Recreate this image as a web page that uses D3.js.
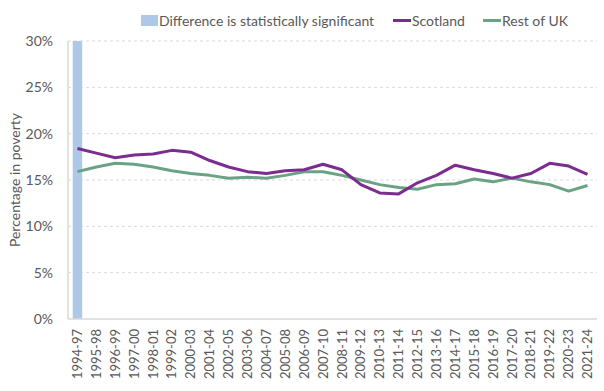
<!DOCTYPE html>
<html>
<head>
<meta charset="utf-8">
<script src="https://cdn.jsdelivr.net/npm/d3@7"></script>
<style>
  body { margin: 0; background: #fff; }
  svg { font-family: "Source Sans Pro", "Lato", "Noto Sans", sans-serif; }
</style>
</head>
<body>
<div id="chart"></div>
<script>
// periods (3-year averages)
const periods = ["1994-97","1995-98","1996-99","1997-00","1998-01","1999-02","2000-03","2001-04",
  "2002-05","2003-06","2004-07","2005-08","2006-09","2007-10","2008-11","2009-12","2010-13",
  "2011-14","2012-15","2013-16","2014-17","2015-18","2016-19","2017-20","2018-21","2019-22",
  "2020-23","2021-24"];

// % in poverty
const scotland = [18.4,17.9,17.4,17.7,17.8,18.2,18.0,17.1,16.4,15.9,15.7,16.0,16.1,16.7,16.1,14.5,
  13.6,13.5,14.7,15.5,16.6,16.1,15.7,15.2,15.7,16.8,16.5,15.6];
const restOfUK = [15.9,16.4,16.8,16.7,16.4,16.0,15.7,15.5,15.2,15.3,15.2,15.5,15.9,15.9,15.5,15.0,
  14.5,14.2,14.0,14.5,14.6,15.1,14.8,15.2,14.8,14.5,13.8,14.4];

// periods where the difference is statistically significant
const significant = ["1994-97"];

const yTicks = [0, 5, 10, 15, 20, 25, 30];

const W = 604, H = 391;
const m = { t: 41, r: 7, b: 72, l: 68 };

const svg = d3.select("#chart").append("svg").attr("width", W).attr("height", H);

const x = d3.scaleBand().domain(periods).range([m.l, W - m.r]);
const y = d3.scaleLinear().domain([0, 30]).range([H - m.b, m.t]);

const ink = "#595959";

// gridlines
svg.append("g").selectAll("line").data(yTicks.filter(d => d > 0)).join("line")
  .attr("x1", m.l).attr("x2", W - m.r)
  .attr("y1", d => y(d)).attr("y2", d => y(d))
  .attr("stroke", "#d9d9d9").attr("stroke-dasharray", "3,3").attr("stroke-width", 1);

// significance bars
svg.append("g").selectAll("rect").data(significant).join("rect")
  .attr("x", d => x(d) + x.bandwidth() * 0.25)
  .attr("width", x.bandwidth() * 0.5)
  .attr("y", y(30)).attr("height", y(0) - y(30))
  .attr("fill", "#aec8e8");

// axes lines
svg.append("line").attr("x1", m.l).attr("x2", m.l).attr("y1", y(30)).attr("y2", y(0))
  .attr("stroke", "#d9d9d9").attr("stroke-width", 1.5);
svg.append("line").attr("x1", m.l).attr("x2", W - m.r).attr("y1", y(0)).attr("y2", y(0))
  .attr("stroke", "#d9d9d9").attr("stroke-width", 1.5);

// y tick labels
svg.append("g").selectAll("text").data(yTicks).join("text")
  .attr("x", m.l - 15).attr("y", d => y(d)).attr("dy", "0.35em")
  .attr("text-anchor", "end").attr("fill", ink).style("font-size", "14px")
  .text(d => d + "%");

// y title
svg.append("text")
  .attr("transform", `translate(20,${(y(0) + y(30)) / 2}) rotate(-90)`)
  .attr("text-anchor", "middle").attr("fill", ink).style("font-size", "14px")
  .text("Percentage in poverty");

// x labels
svg.append("g").selectAll("text").data(periods).join("text")
  .attr("transform", d => `translate(${x(d) + x.bandwidth() / 2},${y(0) + 10}) rotate(-90)`)
  .attr("text-anchor", "end").attr("dy", "0.35em")
  .attr("fill", ink).style("font-size", "13px")
  .text(d => d);

// lines
const line = d3.line().x((d, i) => x(periods[i]) + x.bandwidth() / 2).y(d => y(d));
const series = [
  { name: "Scotland", values: scotland, color: "#7b2c8f" },
  { name: "Rest of UK", values: restOfUK, color: "#6aa383" }
];
series.slice().reverse().forEach(s => {
  svg.append("path").datum(s.values).attr("d", line)
    .attr("fill", "none").attr("stroke", s.color).attr("stroke-width", 3)
    .attr("stroke-linejoin", "round");
});

// legend
const lg = svg.append("g").style("font-size", "14px");
lg.append("rect").attr("x", 141).attr("y", 15).attr("width", 17).attr("height", 11).attr("fill", "#aec8e8");
lg.append("text").attr("x", 159).attr("y", 25.5).attr("fill", ink).text("Difference is statistically significant");
const lx = [393, 483];
series.forEach((s, i) => {
  lg.append("line").attr("x1", lx[i]).attr("x2", lx[i] + 18).attr("y1", 20.5).attr("y2", 20.5)
    .attr("stroke", s.color).attr("stroke-width", 3);
  lg.append("text").attr("x", lx[i] + 19).attr("y", 25.5).attr("fill", ink).text(s.name);
});
</script>
</body>
</html>
